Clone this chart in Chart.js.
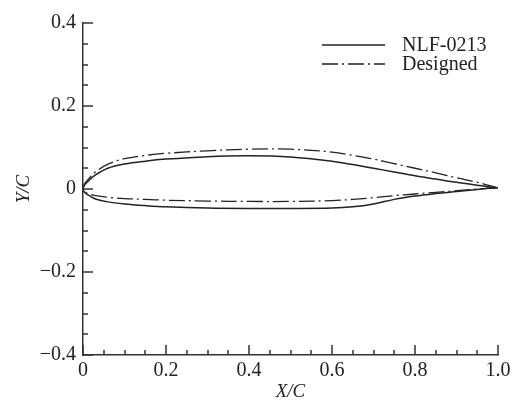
<!DOCTYPE html>
<meta charset="utf-8">
<style>
	html, body { margin: 0; padding: 0; background: #fff; }
	#wrap { width: 515px; height: 400px; }
</style>
<body>

	<script src="https://cdn.jsdelivr.net/npm/chart.js@4/dist/chart.umd.min.js"></script>

	<div id="wrap">
		<canvas id="foilChart" width="515" height="400"></canvas>
	</div>

	<script>
		// chordwise stations shared by all four surfaces
		var xStations = [0, 0.005, 0.015, 0.03, 0.06, 0.1, 0.15, 0.2, 0.3, 0.4, 0.5, 0.6, 0.65, 0.7, 0.75, 0.8, 0.85, 0.9, 0.95, 0.98, 1.0];

		var nlfUpper = [0, 0.011, 0.021, 0.034, 0.050, 0.060, 0.067, 0.072, 0.078, 0.080, 0.077, 0.067, 0.059, 0.050, 0.041, 0.032, 0.024, 0.016, 0.009, 0.005, 0.003];
		var nlfLower = [0, -0.009, -0.016, -0.024, -0.031, -0.036, -0.040, -0.043, -0.046, -0.047, -0.047, -0.046, -0.043, -0.036, -0.025, -0.017, -0.011, -0.006, -0.001, 0.002, 0.003];

		var desUpper = [0, 0.014, 0.026, 0.041, 0.060, 0.073, 0.081, 0.086, 0.092, 0.096, 0.096, 0.089, 0.081, 0.072, 0.061, 0.050, 0.039, 0.027, 0.016, 0.008, 0.003];
		var desLower = [0, -0.007, -0.012, -0.016, -0.020, -0.023, -0.025, -0.027, -0.029, -0.030, -0.030, -0.028, -0.025, -0.021, -0.016, -0.012, -0.008, -0.004, 0.000, 0.002, 0.003];

		var seriesNames = ["NLF-0213", "Designed"];

		var xTickValues = [0, 0.2, 0.4, 0.6, 0.8, 1.0];
		var xTickLabels = ["0", "0.2", "0.4", "0.6", "0.8", "1.0"];
		var yTickValues = [-0.4, -0.2, 0, 0.2, 0.4];
		var yTickLabels = ["\u22120.4", "\u22120.2", "0", "0.2", "0.4"];

		var ink = "#222";
		var serif = "'Liberation Serif', 'Times New Roman', serif";

		// trailing edge -> upper -> leading edge -> lower -> trailing edge
		function loop(upper, lower) {
			var pts = [];
			for (var i = xStations.length - 1; i >= 0; i--) pts.push({x: xStations[i], y: upper[i]});
			for (var j = 1; j < xStations.length; j++) pts.push({x: xStations[j], y: lower[j]});
			return pts;
		}

		function labelFor(values, labels, v) {
			for (var i = 0; i < values.length; i++) {
				if (Math.abs(values[i] - v) < 1e-6) return labels[i];
			}
			return "";
		}

		// inward major/minor ticks
		var innerTicks = {
			id: "innerTicks",
			afterDraw: function(chart) {
				var ctx = chart.ctx;
				var xs = chart.scales.x, ys = chart.scales.y;
				var area = chart.chartArea;
				ctx.save();
				ctx.strokeStyle = "#333";
				ctx.lineWidth = 1.5;
				ctx.beginPath();
				for (var i = 0; i <= 20; i++) {
					var px = Math.round(xs.getPixelForValue(i * 0.05));
					var len = (i % 4 == 0) ? 10 : 5;
					ctx.moveTo(px, area.bottom);
					ctx.lineTo(px, area.bottom - len);
				}
				for (var k = 0; k <= 16; k++) {
					var py = Math.round(ys.getPixelForValue(-0.4 + k * 0.05));
					var len2 = (k % 4 == 0) ? 10 : 5;
					ctx.moveTo(area.left, py);
					ctx.lineTo(area.left + len2, py);
				}
				ctx.stroke();
				ctx.restore();
			}
		};

		// legend inside the plot, top right
		var insideLegend = {
			id: "insideLegend",
			afterDraw: function(chart) {
				var ctx = chart.ctx;
				var area = chart.chartArea;
				ctx.save();
				ctx.font = "20px " + serif;
				ctx.textBaseline = "middle";
				ctx.fillStyle = ink;
				chart.data.datasets.forEach(function(ds, i) {
					var y = area.top + 22 + i * 19;
					ctx.strokeStyle = ds.borderColor;
					ctx.lineWidth = ds.borderWidth;
					ctx.setLineDash(ds.borderDash || []);
					ctx.beginPath();
					ctx.moveTo(area.right - 176, y);
					ctx.lineTo(area.right - 113, y);
					ctx.stroke();
					ctx.setLineDash([]);
					ctx.fillText(ds.label, area.right - 96, y + 1);
				});
				ctx.restore();
			}
		};

		var ctxFoil = document.getElementById("foilChart");

		var myChart = new Chart(ctxFoil, {
			type: 'line',
			data: {
				datasets: [{
					label: seriesNames[0],
					data: loop(nlfUpper, nlfLower),
					borderColor: ink,
					borderWidth: 1.5,
					pointRadius: 0,
					tension: 0.35,
					fill: false
				}, {
					label: seriesNames[1],
					data: loop(desUpper, desLower),
					borderColor: ink,
					borderWidth: 1.3,
					borderDash: [16, 4, 2, 4],
					pointRadius: 0,
					tension: 0.35,
					fill: false
				}]
			},
			options: {
				responsive: false,
				animation: false,
				layout: { padding: { left: 0, right: 17, top: 23, bottom: 0 } },
				plugins: {
					legend: { display: false },
					tooltip: { enabled: false }
				},
				scales: {
					x: {
						type: 'linear',
						min: 0,
						max: 1,
						afterFit: function(scale) { scale.height = 45; },
						border: { display: true, color: "#333", width: 1.5 },
						grid: { display: false, drawTicks: false },
						ticks: {
							stepSize: 0.2,
							padding: 4,
							maxRotation: 0,
							color: ink,
							font: { family: serif, size: 20 },
							callback: function(v) { return labelFor(xTickValues, xTickLabels, v); }
						},
						title: {
							display: true,
							text: "X/C",
							color: ink,
							padding: { top: 0, bottom: -1 },
							font: { family: serif, size: 19, style: 'italic', lineHeight: 1 }
						}
					},
					y: {
						type: 'linear',
						min: -0.4,
						max: 0.4,
						afterFit: function(scale) { scale.width = 83; },
						border: { display: true, color: "#333", width: 1.5 },
						grid: { display: false, drawTicks: false },
						ticks: {
							stepSize: 0.2,
							padding: 7,
							color: ink,
							font: { family: serif, size: 20 },
							callback: function(v) { return labelFor(yTickValues, yTickLabels, v); }
						},
						title: {
							display: true,
							text: "Y/C",
							color: ink,
							padding: { top: 14, bottom: 0 },
							font: { family: serif, size: 19, style: 'italic', lineHeight: 1 }
						}
					}
				}
			},
			plugins: [innerTicks, insideLegend]
		});
	</script>
</body>
